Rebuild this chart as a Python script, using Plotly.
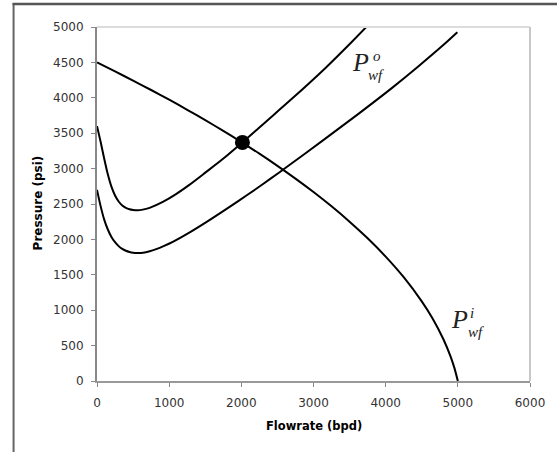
import plotly.graph_objects as go

# IPR curve (inflow), P_wf^i
ipr_q = [0, 250, 500, 750, 1000, 1250, 1500, 1750, 2000, 2250, 2500, 2750, 3000,
         3250, 3500, 3750, 4000, 4250, 4500, 4650, 4800, 4900, 4950, 5000]
ipr_p = [4500, 4373, 4243, 4110, 3973, 3831, 3684, 3533, 3375, 3211, 3039, 2859, 2669,
         2467, 2250, 2015, 1757, 1466, 1125, 883, 590, 345, 192, 0]

# Upper outflow curve P_wf^o
tpr1_q = [0, 50, 100, 150, 200, 250, 300, 350, 400, 450, 500, 560, 650, 729, 912, 1095,
          1279, 1509, 1738, 2013, 2242, 2380, 2700, 3159, 3526, 3741]
tpr1_p = [3600, 3380, 3140, 2920, 2745, 2620, 2535, 2478, 2445, 2425, 2415, 2410, 2424,
          2446, 2530, 2640, 2770, 2950, 3132, 3370, 3575, 3698, 3985, 4415, 4785, 5010]

# Lower outflow curve
tpr2_q = [0, 50, 100, 150, 200, 250, 300, 350, 400, 450, 500, 560, 637, 730, 820, 930,
          1050, 1279, 1509, 1738, 1967, 2197, 2400, 2586, 3159, 3618, 4076, 4443, 4810,
          4993]
tpr2_p = [2700, 2470, 2280, 2140, 2035, 1960, 1905, 1865, 1840, 1823, 1813, 1809, 1812,
          1832, 1862, 1908, 1965, 2095, 2240, 2392, 2548, 2708, 2854, 2990, 3420, 3770,
          4130, 4435, 4755, 4925]

# Operating point
op_q = [2015]
op_p = [3370]

x_ticks = [0, 1000, 2000, 3000, 4000, 5000, 6000]
y_ticks = [0, 500, 1000, 1500, 2000, 2500, 3000, 3500, 4000, 4500, 5000]

line = dict(color="black", width=2, shape="spline", smoothing=0.8)
fig = go.Figure()
for qq, pp in [(ipr_q, ipr_p), (tpr1_q, tpr1_p), (tpr2_q, tpr2_p)]:
    fig.add_trace(go.Scatter(x=qq, y=pp, mode="lines", line=line, showlegend=False,
                             hoverinfo="skip"))
fig.add_trace(go.Scatter(x=op_q, y=op_p, mode="markers",
                         marker=dict(color="black", size=15), showlegend=False))

W, H = 557, 452
L, R, T, B = 97, 24, 27, 71
pw, ph = W - L - R, H - T - B


def px(xp):
    return (xp - L) / pw


def py(yp):
    return (H - B - yp) / ph


tick_font = dict(family="DejaVu Sans, Arial, sans-serif", size=12, color="#333")
fig.update_layout(
    width=W, height=H,
    margin=dict(l=L, r=R, t=T, b=B),
    paper_bgcolor="white", plot_bgcolor="white",
    xaxis=dict(range=[0, 6000], tickvals=x_ticks, ticks="outside", ticklen=4,
               tickcolor="#888", showline=True, linecolor="#999", linewidth=2,
               showgrid=False, zeroline=False, tickfont=tick_font,
               ticklabelstandoff=6),
    yaxis=dict(range=[0, 5000], tickvals=y_ticks, ticks="outside", ticklen=4,
               tickcolor="#888", showline=True, linecolor="#888", linewidth=2,
               showgrid=False, zeroline=False, tickfont=tick_font,
               ticklabelstandoff=5),
    shapes=[
        # plot frame top and right
        dict(type="line", xref="paper", yref="paper", x0=0, x1=1, y0=1, y1=1,
             line=dict(color="#dcdcdc", width=2)),
        dict(type="line", xref="paper", yref="paper", x0=1, x1=1, y0=0, y1=1,
             line=dict(color="#c8c8c8", width=2)),
        # outer chart border (extends past the right and bottom edges)
        dict(type="line", xref="paper", yref="paper", x0=px(13), x1=px(13),
             y0=py(500), y1=py(3), line=dict(color="#666", width=2)),
        dict(type="line", xref="paper", yref="paper", x0=px(12), x1=px(600),
             y0=py(4), y1=py(4), line=dict(color="#555", width=2.5)),
    ],
)

serif = "Liberation Serif, Times New Roman, serif"
annots = [
    dict(text="<b>Flowrate (bpd)</b>", x=px(315), y=py(426),
         font=dict(family="DejaVu Sans, Arial, sans-serif", size=11.5, color="black")),
    dict(text="<b>Pressure (psi)</b>", x=px(38), y=py(203), textangle=-90,
         font=dict(family="DejaVu Sans, Arial, sans-serif", size=12, color="black")),
    # P_wf^o label
    dict(text="<i>P</i>", x=px(362), y=py(63), font=dict(family=serif, size=26, color="#222")),
    dict(text="<i>o</i>", x=px(379), y=py(56), font=dict(family=serif, size=15, color="#222")),
    dict(text="<i>wf</i>", x=px(378), y=py(75), font=dict(family=serif, size=15, color="#222")),
    # P_wf^i label
    dict(text="<i>P</i>", x=px(462), y=py(319), font=dict(family=serif, size=26, color="#222")),
    dict(text="<i>i</i>", x=px(475), y=py(313), font=dict(family=serif, size=15, color="#222")),
    dict(text="<i>wf</i>", x=px(479), y=py(332), font=dict(family=serif, size=15, color="#222")),
]
for a in annots:
    a.update(xref="paper", yref="paper", showarrow=False, xanchor="center", yanchor="middle")
fig.update_layout(annotations=annots)

fig.write_html("out.html", config={"displayModeBar": False},
               post_script="document.body.style.margin='0';document.body.style.overflow='hidden';")
